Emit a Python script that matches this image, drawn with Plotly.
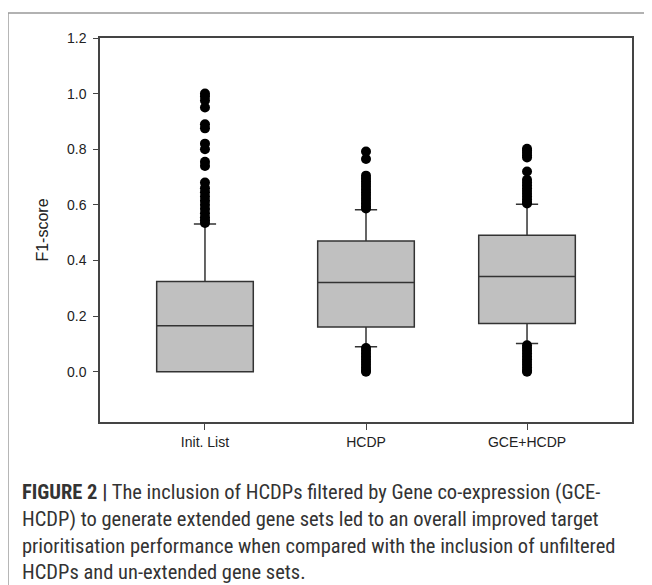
import plotly.graph_objects as go

categories = ["Init. List", "HCDP", "GCE+HCDP"]
q1 = [0.0, 0.161, 0.173]
median = [0.165, 0.321, 0.342]
q3 = [0.324, 0.470, 0.491]
lower_fence = [0.0, 0.090, 0.101]
upper_fence = [0.531, 0.582, 0.602]

outliers_init = [1.0, 0.99, 0.975, 0.95, 0.89, 0.875, 0.82, 0.80, 0.755, 0.74,
                 0.68, 0.66, 0.645, 0.63, 0.615, 0.60, 0.585, 0.57, 0.555, 0.545, 0.535]
outliers_hcdp = [0.792, 0.765, 0.705, 0.695, 0.685, 0.675, 0.665, 0.655, 0.645,
                 0.635, 0.625, 0.615, 0.605, 0.595, 0.587,
                 0.085, 0.075, 0.065, 0.055, 0.045, 0.035, 0.025, 0.015, 0.005, 0.0]
outliers_gce = [0.802, 0.795, 0.787, 0.778, 0.77, 0.72, 0.69, 0.68, 0.67, 0.66,
                0.65, 0.64, 0.63, 0.62, 0.61, 0.605,
                0.095, 0.085, 0.075, 0.065, 0.055, 0.045, 0.035, 0.025, 0.015, 0.005, 0.0]
outliers = [outliers_init, outliers_hcdp, outliers_gce]

y_ticks = [0.0, 0.2, 0.4, 0.6, 0.8, 1.0, 1.2]
y_tick_text = ["0.0", "0.2", "0.4", "0.6", "0.8", "1.0", "1.2"]

caption_lines = [
    "<b>FIGURE 2 |</b> The inclusion of HCDPs filtered by Gene co-expression (GCE-",
    "HCDP) to generate extended gene sets led to an overall improved target",
    "prioritisation performance when compared with the inclusion of unfiltered",
    "HCDPs and un-extended gene sets.",
]

fig = go.Figure()
fig.add_trace(go.Box(
    x=categories, q1=q1, median=median, q3=q3,
    lowerfence=lower_fence, upperfence=upper_fence,
    boxpoints=False, width=0.6, whiskerwidth=0.23,
    fillcolor="#c0c0c0", line=dict(color="#333333", width=1.5),
    showlegend=False, hoverinfo="skip",
))
for cat, pts in zip(categories, outliers):
    fig.add_trace(go.Scatter(
        x=[cat] * len(pts), y=pts, mode="markers",
        marker=dict(color="black", size=10),
        showlegend=False, hoverinfo="skip",
    ))

axis_font = dict(family="Liberation Sans, Arial, sans-serif", size=14, color="#222222")
fig.update_layout(
    width=644, height=577,
    margin=dict(l=92, r=20, t=30, b=163),
    paper_bgcolor="white", plot_bgcolor="white",
    xaxis=dict(type="category", range=[-0.652, 2.652], showgrid=False,
               showline=True, linecolor="#444444", linewidth=1.5, mirror=True,
               ticks="outside", ticklen=6, tickcolor="#444444",
               tickfont=axis_font, zeroline=False),
    yaxis=dict(range=[-0.181, 1.2], showgrid=False, zeroline=False,
               tickvals=y_ticks, ticktext=y_tick_text,
               showline=True, linecolor="#444444", linewidth=1.5, mirror=True,
               ticks="outside", ticklen=5, tickcolor="#444444",
               ticklabelstandoff=4,
               tickfont=axis_font,
               title=dict(text="F1-score", font=dict(family="Liberation Sans, Arial, sans-serif",
                                                       size=16, color="#222222"), standoff=14)),
)

# outer frame lines (top and left)
fig.add_shape(type="line", xref="paper", yref="paper",
              x0=-0.173, x1=1.05, y0=1.065, y1=1.065,
              line=dict(color="#999999", width=1.5))
fig.add_shape(type="line", xref="paper", yref="paper",
              x0=-0.173, x1=-0.173, y0=1.065, y1=-0.43,
              line=dict(color="#999999", width=1.5))

cap_y = [-0.182, -0.253, -0.323, -0.391]
for txt, yy in zip(caption_lines, cap_y):
    fig.add_annotation(text=txt, xref="paper", yref="paper", x=-0.150, y=yy,
                       xanchor="left", yanchor="middle", showarrow=False,
                       font=dict(family="Roboto Condensed, Liberation Sans Narrow, Liberation Sans, Arial",
                                 size=20.5, color="#333333"))

fig.write_html("out.html")
